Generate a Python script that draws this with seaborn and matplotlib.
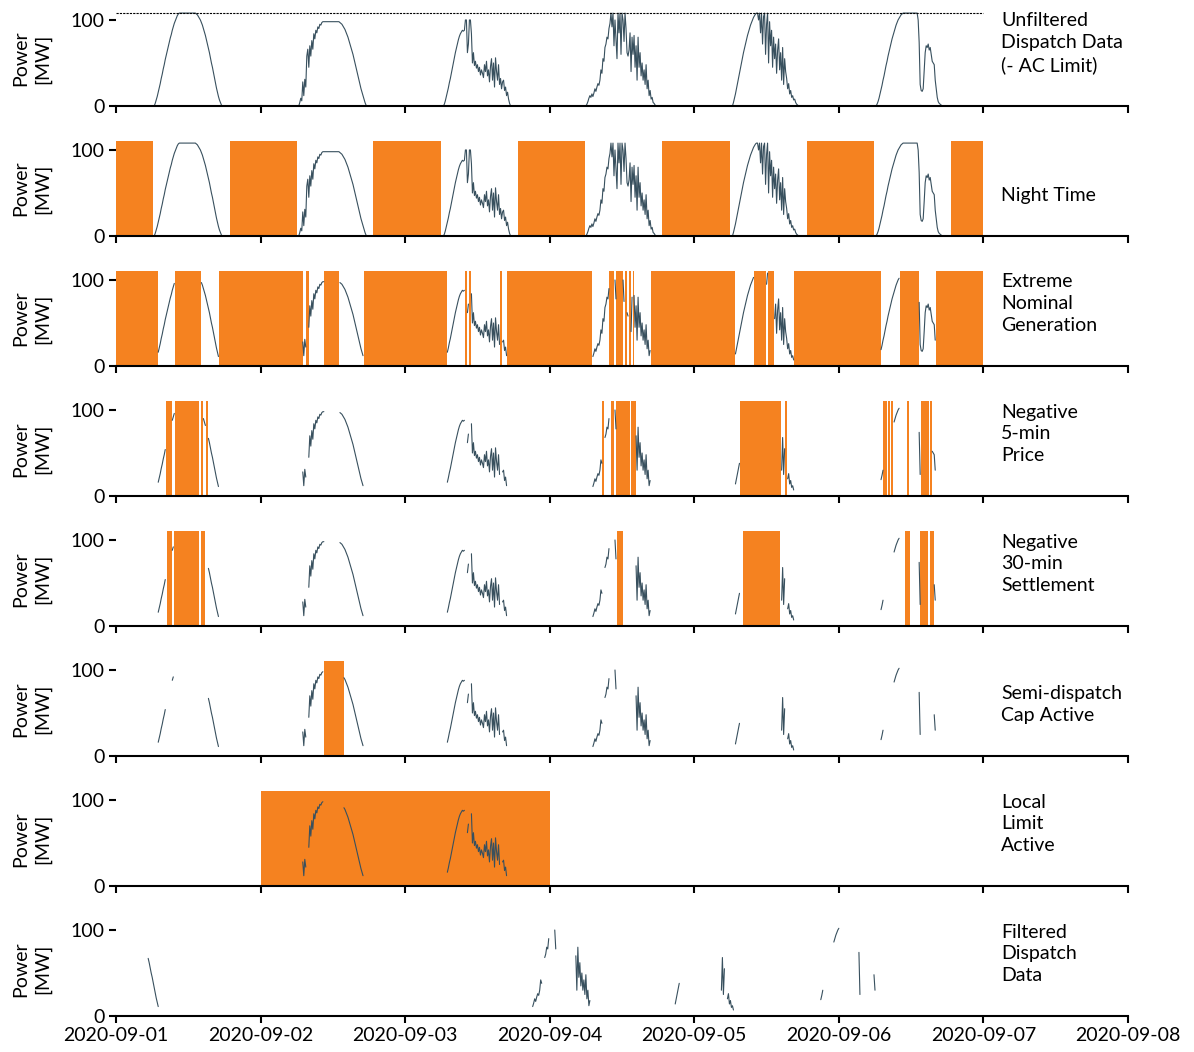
import numpy as np
import pandas as pd
import matplotlib
matplotlib.use("Agg")
import matplotlib.pyplot as plt
import matplotlib.dates as mdates
import seaborn as sns

# ---------------------------------------------------------------------------
# Dispatch readings (MW), 10-minute steps from 06:00 to 18:00, local time
# ---------------------------------------------------------------------------
AC_LIMIT = 108
days = ["2020-09-01", "2020-09-02", "2020-09-03", "2020-09-04", "2020-09-05", "2020-09-06"]

gen_0901 = [0, 0, 0, 3, 7, 11, 16, 21, 26, 32, 37, 43, 48, 54, 59, 64, 69, 74, 79, 83,
            88, 92, 96, 99, 102, 105, 107, 108, 108, 108, 108, 108, 108, 108, 108, 108,
            108, 108, 108, 108, 108, 108, 108, 108, 107, 106, 104, 102, 100, 97, 94, 90,
            86, 82, 77, 72, 67, 62, 56, 50, 45, 39, 33, 27, 21, 16, 11, 7, 4, 1, 0, 0, 0]
gen_0902 = [0, 0, 0, 4, 9, 6, 28, 12, 31, 22, 58, 66, 45, 70, 58, 76, 66, 84, 78, 88,
            85, 92, 90, 95, 94, 97, 98, 98, 98, 98, 98, 98, 98, 98, 98, 98, 98, 98, 98,
            98, 98, 98, 98, 97, 96, 95, 93, 91, 89, 86, 83, 80, 76, 72, 68, 64, 60, 55,
            50, 45, 40, 35, 30, 25, 20, 16, 12, 8, 4, 1, 0, 0, 0]
gen_0903 = [0, 0, 0, 2, 6, 11, 16, 21, 27, 32, 38, 44, 50, 56, 62, 67, 72, 77, 81, 84,
            86, 88, 87, 88, 100, 100, 62, 72, 100, 100, 84, 50, 62, 47, 52, 44, 48, 40,
            45, 36, 42, 38, 33, 48, 40, 52, 35, 42, 28, 46, 55, 30, 50, 22, 56, 40, 30,
            48, 25, 32, 20, 28, 30, 18, 22, 12, 16, 8, 3, 0, 0, 0, 0]
gen_0904 = [0, 2, 5, 9, 12, 10, 14, 11, 15, 20, 17, 22, 26, 24, 30, 42, 38, 55, 52, 68,
            72, 80, 78, 90, 96, 108, 92, 108, 70, 100, 78, 55, 108, 85, 108, 60, 108, 100,
            75, 108, 90, 62, 58, 65, 85, 40, 80, 60, 82, 45, 70, 30, 80, 45, 62, 35, 50,
            30, 42, 25, 48, 20, 30, 12, 18, 8, 10, 4, 3, 1, 0, 0, 0]
gen_0905 = [0, 0, 0, 4, 9, 14, 20, 26, 32, 38, 44, 50, 56, 62, 67, 72, 77, 82, 86, 90,
            94, 97, 100, 103, 105, 107, 108, 108, 100, 108, 85, 108, 72, 104, 108, 60, 95,
            108, 50, 98, 70, 88, 45, 80, 55, 72, 38, 65, 78, 42, 62, 30, 68, 25, 55, 40,
            32, 20, 26, 14, 18, 10, 12, 7, 8, 4, 2, 1, 0, 0, 0, 0, 0]
gen_0906 = [0, 0, 2, 5, 9, 14, 19, 24, 30, 35, 41, 47, 52, 58, 63, 68, 73, 78, 82, 86,
            90, 94, 97, 100, 102, 104, 106, 107, 108, 108, 108, 108, 108, 108, 108, 108,
            108, 108, 108, 108, 108, 108, 108, 100, 74, 25, 18, 17, 20, 40, 62, 70, 68,
            72, 65, 68, 60, 52, 50, 48, 30, 20, 10, 5, 3, 2, 1, 0, 0, 0, 0, 0, 0]
daily_generation = [gen_0901, gen_0902, gen_0903, gen_0904, gen_0905, gen_0906]

# ---------------------------------------------------------------------------
# Flagged periods for each filter (local time, start inclusive, end exclusive)
# ---------------------------------------------------------------------------
night_time = [
    ("2020-09-01 00:00", "2020-09-01 06:09"), ("2020-09-01 18:55", "2020-09-02 06:03"),
    ("2020-09-02 18:40", "2020-09-03 05:59"), ("2020-09-03 18:45", "2020-09-04 05:53"),
    ("2020-09-04 18:39", "2020-09-05 05:57"), ("2020-09-05 18:43", "2020-09-06 05:50"),
    ("2020-09-06 18:37", "2020-09-07 00:00"),
]
extreme_generation = [
    ("2020-09-01 00:00", "2020-09-01 06:55"), ("2020-09-01 09:48", "2020-09-01 14:08"),
    ("2020-09-01 17:05", "2020-09-02 07:00"), ("2020-09-02 07:31", "2020-09-02 07:58"),
    ("2020-09-02 10:34", "2020-09-02 13:03"), ("2020-09-02 17:05", "2020-09-03 06:52"),
    ("2020-09-03 09:55", "2020-09-03 10:15"), ("2020-09-03 10:35", "2020-09-03 10:55"),
    ("2020-09-03 15:48", "2020-09-03 16:08"), ("2020-09-03 16:55", "2020-09-04 07:05"),
    ("2020-09-04 09:55", "2020-09-04 10:45"), ("2020-09-04 11:05", "2020-09-04 12:05"),
    ("2020-09-04 12:25", "2020-09-04 12:45"), ("2020-09-04 13:05", "2020-09-04 13:25"),
    ("2020-09-04 13:45", "2020-09-04 13:55"), ("2020-09-04 16:45", "2020-09-05 06:45"),
    ("2020-09-05 09:55", "2020-09-05 11:55"), ("2020-09-05 12:15", "2020-09-05 13:15"),
    ("2020-09-05 16:35", "2020-09-06 06:56"), ("2020-09-06 10:05", "2020-09-06 13:15"),
    ("2020-09-06 16:05", "2020-09-07 00:00"),
]
negative_5min_price = [
    ("2020-09-01 08:18", "2020-09-01 09:16"), ("2020-09-01 09:48", "2020-09-01 13:47"),
    ("2020-09-01 14:08", "2020-09-01 14:22"), ("2020-09-01 14:57", "2020-09-01 15:16"),
    ("2020-09-04 08:44", "2020-09-04 09:01"), ("2020-09-04 10:12", "2020-09-04 10:45"),
    ("2020-09-04 11:05", "2020-09-04 12:07"), ("2020-09-04 12:14", "2020-09-04 13:22"),
    ("2020-09-04 13:26", "2020-09-04 13:47"), ("2020-09-04 13:54", "2020-09-04 14:15"),
    ("2020-09-05 07:35", "2020-09-05 14:25"), ("2020-09-05 15:05", "2020-09-05 15:25"),
    ("2020-09-06 07:22", "2020-09-06 08:00"), ("2020-09-06 08:05", "2020-09-06 08:33"),
    ("2020-09-06 08:38", "2020-09-06 09:01"), ("2020-09-06 11:14", "2020-09-06 11:41"),
    ("2020-09-06 13:34", "2020-09-06 14:05"), ("2020-09-06 14:08", "2020-09-06 14:37"),
    ("2020-09-06 14:40", "2020-09-06 15:02"), ("2020-09-06 15:05", "2020-09-06 15:30"),
]
negative_30min_settlement = [
    ("2020-09-01 08:30", "2020-09-01 09:19"), ("2020-09-01 09:40", "2020-09-01 13:47"),
    ("2020-09-01 14:08", "2020-09-01 14:43"), ("2020-09-04 11:06", "2020-09-04 12:10"),
    ("2020-09-05 08:08", "2020-09-05 14:10"), ("2020-09-06 11:02", "2020-09-06 11:46"),
    ("2020-09-06 13:32", "2020-09-06 14:46"), ("2020-09-06 15:06", "2020-09-06 15:45"),
]
semi_dispatch_cap = [("2020-09-02 10:28", "2020-09-02 13:47")]
local_limit = [("2020-09-02 00:00", "2020-09-04 00:00")]

filters = [
    ("Night Time", night_time, "kept"),
    ("Extreme\nNominal\nGeneration", extreme_generation, "kept"),
    ("Negative\n5-min\nPrice", negative_5min_price, "kept"),
    ("Negative\n30-min\nSettlement", negative_30min_settlement, "kept"),
    ("Semi-dispatch\nCap Active", semi_dispatch_cap, "kept"),
    ("Local\nLimit\nActive", local_limit, "flagged"),
]

# ---------------------------------------------------------------------------
# Build the time series
# ---------------------------------------------------------------------------
TZ = "Australia/Brisbane"
index = pd.date_range("2020-09-01 00:00", "2020-09-07 00:00", freq="10min", tz=TZ)
power = pd.Series(0.0, index=index)
for day, values in zip(days, daily_generation):
    assert len(values) == 73, day
    stamps = pd.date_range(f"{day} 06:00", periods=len(values), freq="10min", tz=TZ)
    power.loc[stamps] = values

local_times = index.tz_localize(None)
utc_times = index.tz_convert("UTC").tz_localize(None)


def flag_mask(intervals):
    mask = np.zeros(len(index), dtype=bool)
    for start, end in intervals:
        mask |= (local_times >= pd.Timestamp(start)) & (local_times < pd.Timestamp(end))
    return mask


# ---------------------------------------------------------------------------
# Styling
# ---------------------------------------------------------------------------
LINE_COLOR = "#38505e"
FLAG_COLOR = "#f58220"

sns.set_theme(style="ticks", rc={
    "axes.edgecolor": "black", "xtick.color": "black", "ytick.color": "black",
    "text.color": "black", "axes.labelcolor": "black",
})
plt.rcParams["font.family"] = ["Lato", "DejaVu Sans"]
plt.rcParams.update({"font.size": 14, "xtick.labelsize": 14, "ytick.labelsize": 14,
                     "axes.labelsize": 14})


def draw_power(ax, times, values):
    df = pd.DataFrame({"time": times, "power": np.asarray(values, dtype=float)})
    valid = df["power"].notna()
    df["run"] = (valid != valid.shift()).cumsum()
    df = df[valid]
    sns.lineplot(data=df, x="time", y="power", units="run", estimator=None,
                 color=LINE_COLOR, lw=0.8, ax=ax, legend=False, zorder=2)


def shade(ax, intervals):
    for start, end in intervals:
        ax.axvspan(pd.Timestamp(start), pd.Timestamp(end), color=FLAG_COLOR, lw=0, zorder=1)


fig, axes = plt.subplots(8, 1, figsize=(11.94, 10.52), dpi=100, sharex=True)
fig.subplots_adjust(left=0.0972, right=0.9447, top=0.9892, bottom=0.0342, hspace=0.374)

# Unfiltered data with the AC limit
ax = axes[0]
draw_power(ax, local_times, power.values)
ax.hlines(AC_LIMIT, local_times[0], local_times[-1], colors="black",
          linestyles=(0, (2, 1)), lw=0.8, zorder=3)
titles = ["Unfiltered\nDispatch Data\n(- AC Limit)"]

removed = np.zeros(len(index), dtype=bool)
for ax, (title, intervals, show) in zip(axes[1:7], filters):
    flagged = flag_mask(intervals)
    if show == "flagged":
        visible = ~removed & flagged
    else:
        visible = ~removed & ~flagged
    shade(ax, intervals)
    draw_power(ax, local_times, power.where(visible).values)
    removed |= flagged
    titles.append(title)

# Data left after every filter (timestamps in UTC)
ax = axes[7]
draw_power(ax, utc_times, power.where(~removed).values)
titles.append("Filtered\nDispatch\nData")

for ax, title in zip(axes, titles):
    ax.set_ylim(0, 110)
    ax.set_yticks([0, 100])
    ax.set_ylabel("Power\n[MW]", linespacing=1.35, labelpad=14)
    ax.set_xlabel("")
    sns.despine(ax=ax, left=True)
    ax.spines["bottom"].set_linewidth(1.5)
    ax.tick_params(axis="both", length=5, width=1.5, pad=3)
    ax.text(0.8745, 0.335, title, transform=ax.transAxes, ha="left", va="bottom",
            fontsize=14, linespacing=1.35)

axes[-1].set_xlim(pd.Timestamp("2020-09-01"), pd.Timestamp("2020-09-08"))
axes[-1].xaxis.set_major_locator(mdates.DayLocator())
axes[-1].xaxis.set_major_formatter(mdates.DateFormatter("%Y-%m-%d"))
fig.align_ylabels(axes)

fig.savefig("out.png", dpi=100)
